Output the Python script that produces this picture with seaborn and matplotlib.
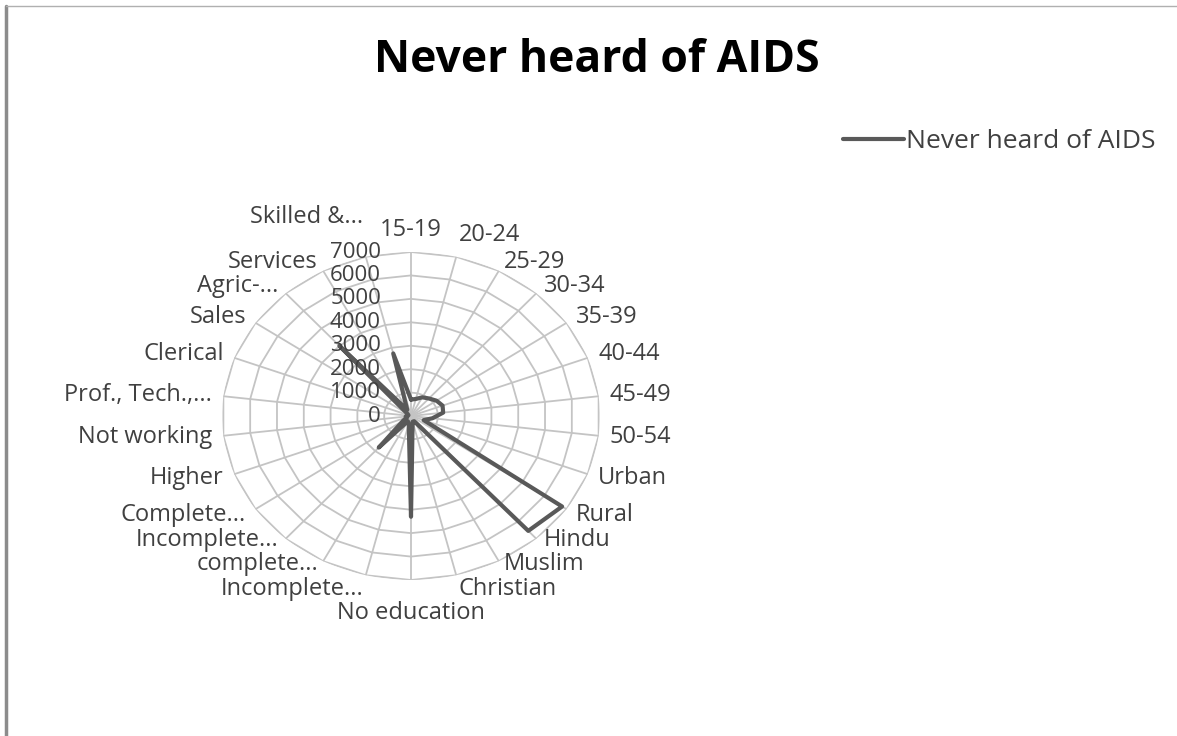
import numpy as np
import matplotlib
matplotlib.use("Agg")
import matplotlib.pyplot as plt
import matplotlib.transforms as mtransforms
from matplotlib.lines import Line2D
import seaborn as sns
import pandas as pd

# ---------------- data ----------------
categories = ["15-19", "20-24", "25-29", "30-34", "35-39", "40-44", "45-49", "50-54",
              "Urban", "Rural", "Hindu", "Muslim", "Christian", "No education",
              "Incomplete...", "complete...", "Incomplete...", "Complete...", "Higher",
              "Not working", "Prof., Tech.,...", "Clerical", "Sales", "Agric-...",
              "Services", "Skilled &..."]
values = [700, 750, 900, 1000, 1150, 1250, 1200, 800,
          500, 6800, 6550, 250, 250, 4300,
          350, 250, 1800, 350, 150,
          200, 150, 100, 150, 4000,
          300, 2750]
series_name = "Never heard of AIDS"
title = "Never heard of AIDS"
r_ticks = [0, 1000, 2000, 3000, 4000, 5000, 6000, 7000]
r_tick_labels = [str(v) for v in r_ticks]

# ---------------- style ----------------
sns.set_theme(style="white")
plt.rcParams['font.family'] = ['Open Sans', 'DejaVu Sans']
line_color = "#595959"
grid_color = "#c4c4c4"
text_color = "#404040"
fs = 17

fig = plt.figure(figsize=(11.77, 7.36), dpi=100)
fig.patch.set_facecolor("white")

W, H = 1177, 736
cx, cy, rx, ry = 411, 416, 189, 164
ax = fig.add_axes([(cx - rx) / W, 1 - (cy + ry) / H, 2 * rx / W, 2 * ry / H], projection="polar")
ax.set_aspect("auto")
ax.set_theta_zero_location("N")
ax.set_theta_direction(-1)
ax.set_facecolor("none")

n = len(categories)
theta = np.arange(n) * 2 * np.pi / n
ax.set_ylim(0, r_ticks[-1])
ax.set_xticks(theta)
ax.set_xticklabels([])
ax.set_yticks(r_ticks)
ax.set_yticklabels([])
ax.yaxis.grid(False)
ax.xaxis.grid(True, color=grid_color, lw=1.3)
ax.spines["polar"].set_visible(False)

# polygon gridlines like Excel radar charts
theta_closed = np.append(theta, theta[0])
for v in r_ticks[1:]:
    ax.plot(theta_closed, np.full(n + 1, v), color=grid_color, lw=1.3, zorder=1)

# data line
df = pd.DataFrame({"theta": theta_closed, "r": list(values) + [values[0]]})
sns.lineplot(data=df, x="theta", y="r", sort=False, ax=ax, color=line_color,
             lw=3.0, estimator=None, label=series_name, zorder=3)
ax.set_xlabel("")
ax.set_ylabel("")
if ax.get_legend() is not None:
    ax.get_legend().remove()

# category labels (small vertical nudges in pixels, positive = down, to keep them apart)
label_nudge = {10: -6, 11: -6, 12: -8, 13: 11, 14: -8, 15: -6, 16: -6, 25: -18}
r_lab = r_ticks[-1] * 1.06
for i, (t, lab) in enumerate(zip(theta, categories)):
    s = np.sin(t)
    c = np.cos(t)
    if s > 0.05:
        ha = "left"
    elif s < -0.05:
        ha = "right"
    else:
        ha = "center"
    if c > 0.95:
        va = "bottom"
    elif c < -0.95:
        va = "top"
    else:
        va = "center"
    tr = mtransforms.offset_copy(ax.transData, fig=fig, x=0, y=-label_nudge.get(i, 0), units="dots")
    ax.text(t, r_lab, lab, transform=tr, ha=ha, va=va, fontsize=fs,
            color=text_color, clip_on=False)

# radial tick labels
off = mtransforms.offset_copy(ax.transData, fig=fig, x=-30, y=0, units="dots")
for v, lab in zip(r_ticks, r_tick_labels):
    ax.text(0, v, lab, transform=off, ha="right", va="center", fontsize=16,
            color=text_color, clip_on=False, zorder=4)

# title
fig.text(597 / W, 1 - 60 / H, title, ha="center", va="center", fontsize=32,
         fontweight="bold", color="black")

# legend
handle = Line2D([0], [0], color=line_color, lw=3.0)
fig.legend([handle], [series_name], loc="center left",
           bbox_to_anchor=(843 / W, 1 - 142 / H), frameon=False, fontsize=19,
           handlelength=2.3, handletextpad=0.1, borderpad=0, borderaxespad=0,
           labelcolor=text_color)

# chart frame (partially visible border)
fig.add_artist(Line2D([6 / W, 6 / W], [0, 1 - 6 / H], color="#8c8c8c", lw=2.5))
fig.add_artist(Line2D([6 / W, 1], [1 - 6 / H, 1 - 6 / H], color="#b0b0b0", lw=1))

fig.savefig("out.png", dpi=100, facecolor="white")
